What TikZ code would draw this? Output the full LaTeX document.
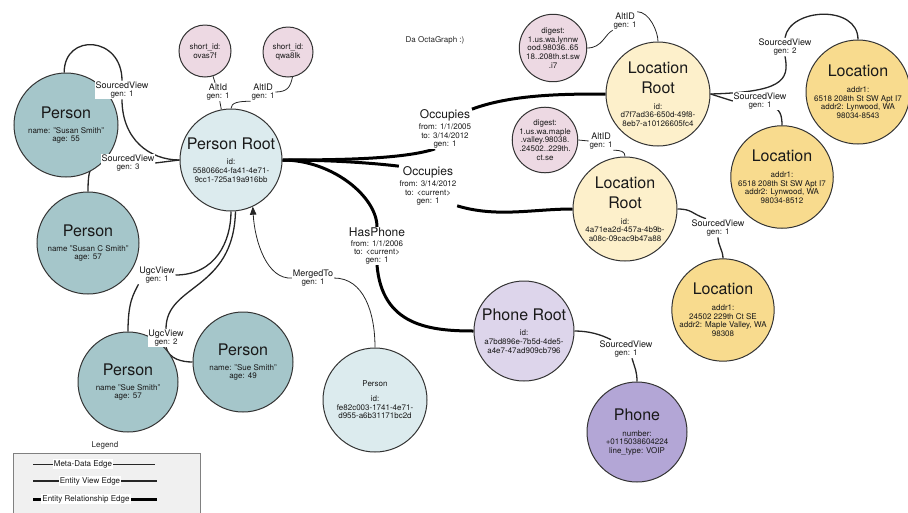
\documentclass[tikz,border=0pt]{standalone}
\usepackage{fontspec}
\setmainfont{TeX Gyre Heros}
\usetikzlibrary{arrows.meta,calc}
\pgfdeclarelayer{edges}
\pgfsetlayers{edges,main}

\definecolor{personc}{HTML}{A5C6CA}
\definecolor{rootc}{HTML}{DCEBEE}
\definecolor{altc}{HTML}{EDD9E3}
\definecolor{locrootc}{HTML}{FDF0CB}
\definecolor{locc}{HTML}{F8DB8E}
\definecolor{phonerootc}{HTML}{DDD5EB}
\definecolor{phonec}{HTML}{B3A6D6}

% large entity title
\newcommand\bigt[1]{{\fontsize{16}{16}\selectfont #1}}
% first line of an edge label
\newcommand\lbt[1]{{\fontsize{9}{9}\selectfont #1}}
% relationship edge title
\newcommand\relt[1]{{\fontsize{12}{12}\selectfont #1}}

\begin{document}
\begin{tikzpicture}[x=1pt,y=-1pt,
  ent/.style={circle, draw=black!80, line width=1pt, inner sep=0pt, align=center,
              font=\fontsize{8}{8.7}\selectfont, text=black!90},
  elab/.style={fill=white, inner sep=0.6pt, align=center,
               font=\fontsize{8}{8.6}\selectfont, text=black!90},
  rlab/.style={fill=white, inner sep=0.6pt, align=center,
               font=\fontsize{8}{8.2}\selectfont, text=black!90},
  meta/.style={line width=0.8pt, draw=black!85},
  view/.style={line width=1.3pt, draw=black!85},
  rel/.style={line width=3pt, draw=black},
]
\useasboundingbox (0,0) rectangle (908,512);

% ---------- entities ----------
\node[ent, fill=personc, minimum size=104pt] (pS) at (66,125)
  {\bigt{Person}\\[6.5pt] name: "Susan Smith"\\ age: 55};
\node[ent, fill=personc, minimum size=102pt] (pC) at (88,243)
  {\bigt{Person}\\[6.5pt] name "Susan C Smith"\\ age: 57};
\node[ent, fill=personc, minimum size=100pt] (pA) at (128,382)
  {\bigt{Person}\\[6.5pt] name "Sue Smith"\\ age: 57};
\node[ent, fill=personc, minimum size=100pt] (pB) at (243,362)
  {\bigt{Person}\\[6.5pt] name: "Sue Smith"\\ age: 49};
\node[ent, fill=rootc, minimum size=102pt] (root) at (231,160)
  {\bigt{Person Root}\\[7pt] id:\\ 558066c4-fa41-4e71-\\ 9cc1-725a19a916bb};
\node[ent, fill=rootc, minimum size=104pt] (mp) at (375,400)
  {Person\\[6pt] id:\\ fe82c003-1741-4e71-\\ d955-a6b31171bc2d};

\node[ent, fill=altc, minimum size=52pt] (ov) at (205,51) {short\_id:\\ ovas7f};
\node[ent, fill=altc, minimum size=50pt] (qw) at (288,52) {short\_id:\\ qwa8lk};
\node[ent, fill=altc, minimum size=60pt] (d1) at (553,48)
  {digest:\\ 1.us.wa.lynnw\\ ood.98036..65\\ 18..208th.st.sw\\ .i7};
\node[ent, fill=altc, minimum size=62pt] (d2) at (545,140)
  {digest:\\ 1.us.wa.maple\\ .valley.98038.\\ .24502..229th.\\ ct.se};

\node[ent, fill=locrootc, minimum size=104pt] (lr1) at (658,94)
  {\bigt{Location}\\[7.5pt] \bigt{Root}\\[7pt] id:\\ d7f7ad36-650d-49f8-\\ 8eb7-a10126605fc4};
\node[ent, fill=locc, minimum size=104pt] (ltr) at (858,92)
  {\bigt{Location}\\[7pt] addr1:\\ 6518 208th St SW Apt I7\\ addr2: Lynwood, WA\\ 98034-8543};
\node[ent, fill=locc, minimum size=98pt] (lm) at (782,177)
  {\bigt{Location}\\[7pt] addr1:\\ 6518 208th St SW Apt I7\\ addr2: Lynwood, WA\\ 98034-8512};
\node[ent, fill=locrootc, minimum size=104pt] (lr2) at (625,209)
  {\bigt{Location}\\[7.5pt] \bigt{Root}\\[7pt] id:\\ 4a71ea2d-457a-4b9b-\\ a08c-09cac9b47a88};
\node[ent, fill=locc, minimum size=100pt] (lb) at (723,310)
  {\bigt{Location}\\[7pt] addr1:\\ 24502 229th Ct SE\\ addr2: Maple Valley, WA\\ 98308};

\node[ent, fill=phonerootc, minimum size=100pt] (phr) at (524,331)
  {\bigt{Phone Root}\\[7pt] id:\\ a7bd896e-7b5d-4de5-\\ a4e7-47ad909cb796};
\node[ent, fill=phonec, minimum size=100pt] (ph) at (637,432)
  {\bigt{Phone}\\[7pt] number:\\ +0115038604224\\ line\_type: VOIP};

% ---------- edge labels ----------
\node[elab] (sv1) at (122,90) {\lbt{SourcedView}\\ gen: 1};
\node[elab] (sv3) at (128,163) {\lbt{SourcedView}\\ gen: 3};
\node[elab] (al1) at (218,92) {\lbt{AltId}\\ gen: 1};
\node[elab] (al2) at (263,92) {\lbt{AltID}\\ gen: 1};
\node[rlab] (oc1) at (445,129) {\relt{Occupies}\\[1.5pt] from: 1/1/2005\\ to: 3/14/2012\\ gen: 1};
\node[rlab] (oc2) at (428,186) {\relt{Occupies}\\[1.5pt] from: 3/14/2012\\ to: <current>\\ gen: 1};
\node[rlab] (hp) at (377,246) {\relt{HasPhone}\\[1.5pt] from: 1/1/2006\\ to: <current>\\ gen: 1};
\node[elab] (mt) at (313,278) {\lbt{MergedTo}\\ gen: 1};
\node[elab] (ug1) at (157,275) {\lbt{UgcView}\\ gen: 1};
\node[elab] (ug2) at (166,338) {\lbt{UgcView}\\ gen: 2};
\node[elab] (la1) at (625,21) {\lbt{AltID}\\ gen: 1};
\node[elab] (la2) at (601,141) {\lbt{AltID}\\ gen: 1};
\node[elab] (sv2) at (785,47) {\lbt{SourcedView}\\ gen: 2};
\node[elab] (svl1) at (760,101) {\lbt{SourcedView}\\ gen: 1};
\node[elab] (svl2) at (718,228) {\lbt{SourcedView}\\ gen: 1};
\node[elab] (svp) at (626,349) {\lbt{SourcedView}\\ gen: 1};

\node[font=\fontsize{8}{9}\selectfont, text=black!85] (title) at (435,40) {Da OctaGraph :)};

% ---------- connectors ----------
\begin{pgfonlayer}{edges}
% person views
\draw[view] (pS.92) .. controls +(0,-40) and +(0,-45) .. (sv1.north);
\draw[view] (sv1.south) .. controls +(0,40) and +(-30,0) .. (root.west);
\draw[view] (pC.north) .. controls +(0,-22) and +(-10,0) .. (sv3.west);
\draw[view] (sv3.east) -- (root.west);
\draw[view] (pA.north) .. controls +(0,-30) and +(-5,10) .. (ug1.south west);
\draw[view] (ug1.east) .. controls +(40,0) and +(0,30) .. (root.south);
\draw[view] (ug2.north) .. controls +(0,-45) and +(-2,80) .. (root.-85);
\draw[view] (ug2.south) .. controls +(3,12) and +(-10,0) .. (pB.west);
% alternate ids
\draw[meta] (ov) -- (al1);
\draw[meta] (al1) -- (root);
\draw[meta] (qw.-80) .. controls +(-2,10) and +(12,0) .. (al2.east);
\draw[meta] (al2.south west) .. controls +(-12,0) and +(0,-6) .. (root.north);
% merge
\draw[meta, -{Triangle[length=8pt,width=6.5pt]}] (mt.west) .. controls +(-25,2) and +(2,35) .. (root.-65);
\draw[meta] (mt.east) .. controls +(30,0) and +(0,-35) .. (mp.north);
% relationships
\draw[rel] (root.east) .. controls +(60,0) and +(-30,10) .. ($(oc1.south)+(-10,0)$);
\draw[rel] (oc1.north east) .. controls +(40,-15) and +(-40,0) .. (lr1.west);
\draw[rel] (root.east) .. controls +(50,0) and +(-25,-3) .. (oc2.north west);
\draw[rel] (oc2.south east) .. controls +(40,12) and +(-40,0) .. (lr2.west);
\draw[rel] (root.east) .. controls +(50,0) and +(0,-30) .. (hp.north);
\draw[rel] (hp.south) .. controls +(5,60) and +(-45,0) .. (phr.west);
% location ids and views
\draw[meta] (d1.east) .. controls +(15,0) and +(-8,4) .. (la1.south west);
\draw[meta] (la1.north east) .. controls +(12,0) and +(0,-10) .. (lr1.north);
\draw[meta] (d2.east) -- (la2.west);
\draw[meta] (la2.south east) .. controls +(8,0) and +(0,-5) .. (lr2.north);
\draw[view] (lr1.east) -- (svl1.west);
\draw[view] ($(svl1.south)+(10,-3)$) .. controls +(10,0) and +(0,-10) .. (lm.north);
\draw[view] (lr1.east) .. controls +(70,-2) and +(5,25) .. (sv2.south);
\draw[view] (sv2.north) .. controls +(5,-30) and +(0,-35) .. (ltr.north);
\draw[view] (lr2.east) .. controls +(15,0) and +(-15,-5) .. ($(svl2.north)+(-12,0)$);
\draw[view] (svl2.south) .. controls +(0,8) and +(0,-8) .. (lb.north);
% phone view
\draw[view] (phr.east) .. controls +(15,0) and +(-10,-5) .. ($(svp.north)+(-15,0)$);
\draw[view] ($(svp.south)+(6,0)$) .. controls +(3,10) and +(0,-10) .. (ph.north);
\end{pgfonlayer}

% ---------- legend ----------
\node[font=\fontsize{8}{9}\selectfont, text=black!85] (legt) at (105,445) {Legend};
\node[draw=black!50, line width=0.9pt, fill=black!6, minimum width=187pt, minimum height=75pt,
      anchor=north west, inner sep=0pt] (legbox) at (13,453) {};
\coordinate (m1) at (33,464);  \coordinate (m2) at (155,464);
\coordinate (v1) at (33,481);  \coordinate (v2) at (157,481);
\coordinate (r1) at (33,499);  \coordinate (r2) at (157,499);
\draw[meta] (m1) -- (m2);
\draw[view] (v1) -- (v2);
\draw[rel] (r1) -- (r2);
\node[elab, inner sep=1pt] (lm1) at (83,464) {Meta-Data Edge};
\node[elab, inner sep=1pt] (lv1) at (90,481) {Entity View Edge};
\node[elab, inner sep=1pt] (lr1t) at (86,499) {Entity Relationship Edge};
\end{tikzpicture}
\end{document}
